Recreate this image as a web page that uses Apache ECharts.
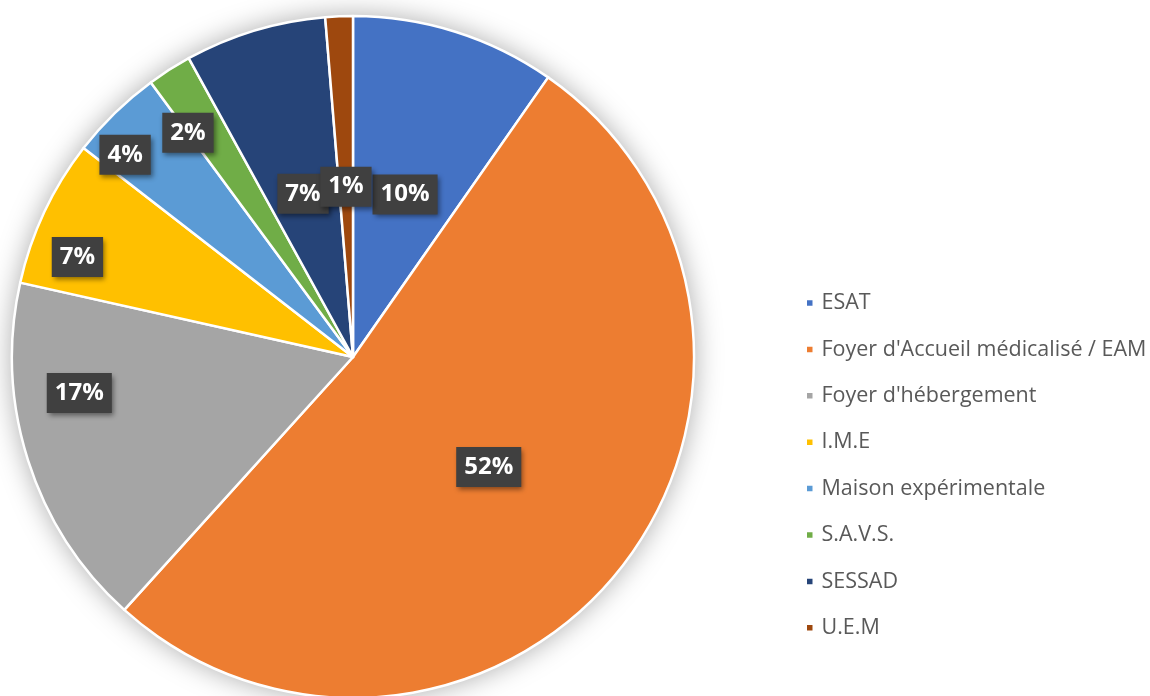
<!DOCTYPE html>
<html>
<head>
<meta charset="utf-8">
<script src="https://cdn.jsdelivr.net/npm/echarts@6/dist/echarts.min.js"></script>
<style>
  html, body { margin: 0; padding: 0; background: #ffffff; }
  #chart { width: 1150px; height: 696px; }
</style>
</head>
<body>
<div id="chart"></div>
<script>
// ---- data ----
const categories = ['ESAT', "Foyer d'Accueil médicalisé / EAM", "Foyer d'hébergement", 'I.M.E', 'Maison expérimentale', 'S.A.V.S.', 'SESSAD', 'U.E.M'];
const shares = [9.7, 52.0, 16.8, 7.0, 4.4, 2.1, 6.7, 1.3];

// ---- styles ----
const colors = ['#4472C4', '#ED7D31', '#A5A5A5', '#FFC000', '#5B9BD5', '#70AD47', '#264478', '#9E480E'];
const outerLabelIdx = [2, 3, 4, 5];
// small label nudges (px) mimicking the original label placement
const labelNudge = { 0: [0, 3], 1: [0, 2], 2: [6, -53], 3: [-10, 25], 4: [-23, 8], 5: [-7, 23], 6: [0, 3], 7: [0, 3] };
const CENTER = [353, 357];
const R = 341;

const labelBox = {
  color: '#ffffff',
  fontFamily: 'Open Sans',
  fontWeight: 'bold',
  fontSize: 24,
  lineHeight: 26,
  backgroundColor: '#404040',
  padding: [7, 8],
  shadowColor: 'rgba(0,0,0,0.45)',
  shadowBlur: 5,
  shadowOffsetX: 2,
  shadowOffsetY: 3,
  formatter: p => Math.round(p.percent) + '%'
};

function layoutFor(params) {
  const n = labelNudge[params.dataIndex];
  return n ? { dx: n[0], dy: n[1], hideOverlap: false } : { hideOverlap: false };
}

const mainData = categories.map((c, i) => ({
  name: c,
  value: shares[i],
  itemStyle: { color: colors[i] },
  label: { show: outerLabelIdx.indexOf(i) < 0 }
}));
const overlayData = categories.map((c, i) => ({
  name: c,
  value: shares[i],
  label: { show: outerLabelIdx.indexOf(i) >= 0 }
}));

const chart = echarts.init(document.getElementById('chart'), null, { renderer: 'canvas' });
chart.setOption({
  animation: false,
  backgroundColor: '#ffffff',
  legend: {
    orient: 'vertical',
    left: 805,
    top: 292,
    padding: 0,
    data: categories,
    icon: 'rect',
    itemWidth: 7.5,
    itemHeight: 7.5,
    itemGap: 24.4,
    textStyle: {
      fontFamily: 'Open Sans',
      fontSize: 21.5,
      lineHeight: 22,
      color: '#595959',
      padding: [0, 0, 0, 3]
    },
    selectedMode: false
  },
  series: [
    {
      type: 'pie',
      silent: true,
      center: CENTER,
      radius: R,
      z: 1,
      label: { show: false },
      labelLine: { show: false },
      itemStyle: { color: '#ffffff', shadowBlur: 28, shadowColor: 'rgba(0,0,0,0.35)' },
      data: [{ name: '__bg', value: 1 }]
    },
    {
      type: 'pie',
      center: CENTER,
      radius: R,
      startAngle: 90,
      clockwise: true,
      z: 2,
      minShowLabelAngle: 0,
      avoidLabelOverlap: false,
      itemStyle: { borderColor: '#ffffff', borderWidth: 2.5 },
      label: Object.assign({ position: 'inside' }, labelBox),
      labelLine: { show: false },
      labelLayout: layoutFor,
      data: mainData
    },
    {
      type: 'pie',
      silent: true,
      center: CENTER,
      radius: [240, R],
      startAngle: 90,
      clockwise: true,
      z: 3,
      minShowLabelAngle: 0,
      avoidLabelOverlap: false,
      itemStyle: { color: 'rgba(0,0,0,0)', borderWidth: 0 },
      label: Object.assign({ position: 'inside' }, labelBox),
      labelLine: { show: false },
      labelLayout: layoutFor,
      data: overlayData
    }
  ]
});
</script>
</body>
</html>
